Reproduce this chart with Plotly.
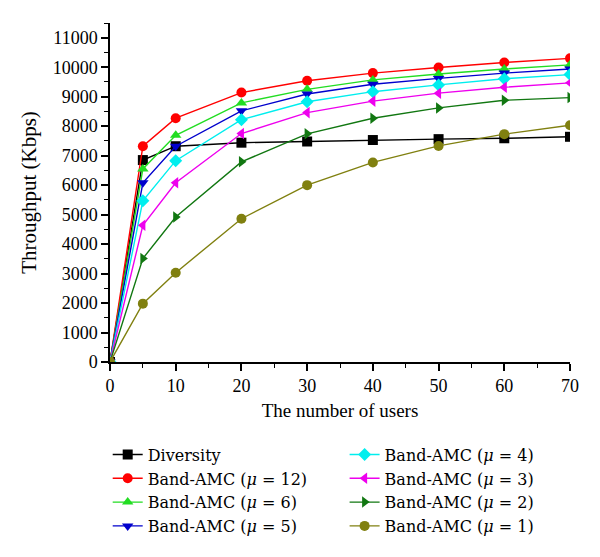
import plotly.graph_objects as go

users = [0, 5, 10, 20, 30, 40, 50, 60, 70]

diversity = [0, 6850, 7320, 7440, 7480, 7530, 7560, 7590, 7640]
mu12 = [0, 7320, 8270, 9140, 9540, 9800, 9990, 10160, 10300]
mu6 = [0, 6550, 7690, 8790, 9250, 9570, 9770, 9940, 10080]
mu5 = [0, 6080, 7320, 8520, 9090, 9420, 9620, 9800, 9940]
mu4 = [0, 5470, 6830, 8220, 8830, 9170, 9400, 9610, 9750]
mu3 = [0, 4640, 6080, 7750, 8460, 8850, 9120, 9320, 9470]
mu2 = [0, 3510, 4920, 6790, 7740, 8270, 8620, 8880, 8970]
mu1 = [0, 1980, 3030, 4860, 6000, 6770, 7330, 7730, 8030]

x_ticks = [0, 10, 20, 30, 40, 50, 60, 70]
y_ticks = list(range(0, 11001, 1000))
y_ticktext = [str(v) for v in y_ticks]

series = [
    ("Diversity", diversity, "#000000", "square", "legend"),
    ("Band-AMC (<i>μ</i> = 12)", mu12, "#ff0000", "circle", "legend"),
    ("Band-AMC (<i>μ</i> = 6)", mu6, "#22dd22", "triangle-up", "legend"),
    ("Band-AMC (<i>μ</i> = 5)", mu5, "#0000cc", "triangle-down", "legend"),
    ("Band-AMC (<i>μ</i> = 4)", mu4, "#00eeee", "diamond", "legend2"),
    ("Band-AMC (<i>μ</i> = 3)", mu3, "#ee00ee", "triangle-left", "legend2"),
    ("Band-AMC (<i>μ</i> = 2)", mu2, "#117711", "triangle-right", "legend2"),
    ("Band-AMC (<i>μ</i> = 1)", mu1, "#808010", "circle", "legend2"),
]

fig = go.Figure()
for name, vals, color, sym, lg in series:
    fig.add_trace(go.Scatter(
        x=users, y=vals, name=name, mode="lines+markers",
        line=dict(color=color, width=1.4),
        marker=dict(symbol=sym, size=10, color=color),
        legend=lg,
    ))

fam = "Liberation Serif, DejaVu Serif, serif"
tickfont = dict(family=fam, size=18, color="#000000")
legfont = dict(family="DejaVu Serif, Liberation Serif, serif", size=16, color="#000000")

fig.update_layout(
    width=600, height=557,
    margin=dict(l=102, r=38, t=15, b=203),
    paper_bgcolor="white", plot_bgcolor="white",
    font=dict(family=fam, size=17, color="#000000"),
    xaxis=dict(
        range=[0, 70], tickvals=x_ticks, automargin=False,
        showgrid=False, zeroline=False, showline=True, linecolor="black", linewidth=1.5,
        ticks="outside", ticklen=7, tickwidth=1.5, tickcolor="black",
        minor=dict(dtick=5, ticks="outside", ticklen=4, tickwidth=1.2, tickcolor="black"),
        title=dict(text="The number of users", standoff=8,
                   font=dict(family=fam, size=19, color="#000000")),
        tickfont=tickfont,
    ),
    yaxis=dict(
        range=[0, 11500], tickvals=y_ticks, ticktext=y_ticktext, automargin=False,
        showgrid=False, zeroline=False, showline=True, linecolor="black", linewidth=1.5,
        ticks="outside", ticklen=7, tickwidth=1.5, tickcolor="black",
        minor=dict(dtick=500, ticks="outside", ticklen=4, tickwidth=1.2, tickcolor="black"),
        title=dict(text="Throughput (Kbps)", standoff=10,
                   font=dict(family=fam, size=21, color="#000000")),
        tickfont=tickfont,
    ),
    legend=dict(x=-0.005, y=-0.223, xanchor="left", yanchor="top", font=legfont,
                bgcolor="rgba(0,0,0,0)", tracegroupgap=0),
    legend2=dict(x=0.51, y=-0.223, xanchor="left", yanchor="top", font=legfont,
                 bgcolor="rgba(0,0,0,0)", tracegroupgap=0),
)

fig.write_html("out.html")
